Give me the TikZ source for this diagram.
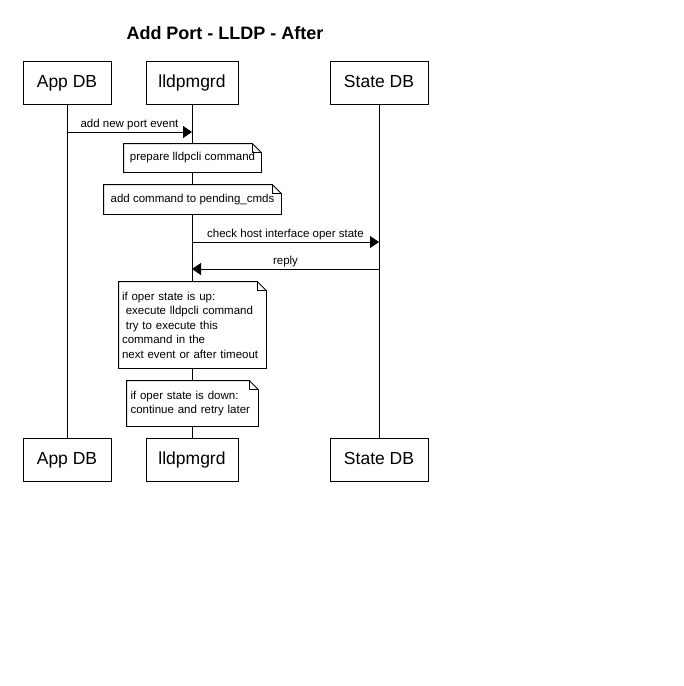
\documentclass[tikz,border=0pt]{standalone}
\usepackage{fontspec}
\setmainfont{Liberation Sans}
\usetikzlibrary{arrows.meta}

% outline of a note with a folded corner
\newcommand{\foldnote}[1]{%
  \draw (#1.north west) -- ([xshift=-9pt]#1.north east) -- ([yshift=-9pt]#1.north east)
    -- (#1.south east) -- (#1.south west) -- cycle;
  \draw ([xshift=-9pt]#1.north east) |- ([yshift=-9pt]#1.north east);
}

\begin{document}
\begin{tikzpicture}[x=1pt, y=-1pt, line width=0.8pt,
  actor/.style={rectangle, draw, fill=white, minimum height=43pt, inner sep=0pt,
    text height=12pt, text depth=3pt, font=\fontsize{17.5}{20}\selectfont},
  note/.style={rectangle, fill=white, inner sep=0pt, align=left,
    font=\fontsize{11.5}{14.5}\selectfont},
  msg/.style={-{Triangle[length=9pt, width=12pt]}},
  msglabel/.style={above, inner sep=2pt, font=\fontsize{11.5}{13}\selectfont}]

\useasboundingbox (0,0) rectangle (684,686);

\node[font=\bfseries\fontsize{18}{21}\selectfont] (title) at (225,33) {Add Port - LLDP - After};

% participants, top and bottom
\node[actor, minimum width=88pt] (appdb) at (67,82.5) {App DB};
\node[actor, minimum width=92pt] (lldp) at (192,82.5) {lldpmgrd};
\node[actor, minimum width=98pt] (statedb) at (379,82.5) {State DB};
\node[actor, minimum width=88pt] (appdbB) at (67,459.5) {App DB};
\node[actor, minimum width=92pt] (lldpB) at (192,459.5) {lldpmgrd};
\node[actor, minimum width=98pt] (statedbB) at (379,459.5) {State DB};

% lifelines
\draw (appdb) -- (appdbB);
\draw (lldp) -- (lldpB);
\draw (statedb) -- (statedbB);

% messages
\coordinate (m1a) at (67,132);
\coordinate (m1b) at (192,132);
\draw[msg] (m1a) -- node[msglabel] {add new port event} (m1b);

\coordinate (m2a) at (192,242);
\coordinate (m2b) at (379,242);
\draw[msg] (m2a) -- node[msglabel] {check host interface oper state} (m2b);

\coordinate (m3a) at (379,269);
\coordinate (m3b) at (192,269);
\draw[msg] (m3a) -- node[msglabel] {reply} (m3b);

% notes
\node[note, minimum width=137pt, minimum height=28pt] (n1) at (192.5,158) {prepare lldpcli command};
\foldnote{n1}
\node[note, minimum width=177pt, minimum height=29pt] (n2) at (192.5,199.5) {add command to pending\_cmds};
\foldnote{n2}
\node[note, minimum width=147pt, minimum height=86pt, text width=141pt] (n3) at (192.5,325)
  {if oper state is up:\\\ execute lldpcli command\\\ try to execute this\\command in the\\next event or after timeout};
\foldnote{n3}
\node[note, minimum width=131pt, minimum height=45pt, text width=124pt] (n4) at (192.5,403.5)
  {if oper state is down:\\continue and retry later};
\foldnote{n4}
\end{tikzpicture}
\end{document}
